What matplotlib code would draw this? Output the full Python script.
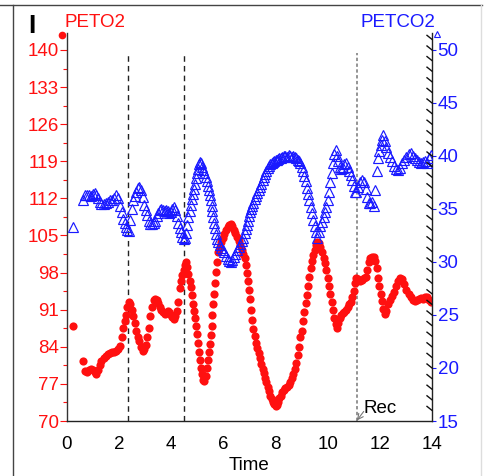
import matplotlib
matplotlib.use("Agg")
import matplotlib.pyplot as plt
from matplotlib.lines import Line2D

plt.rcParams['font.family'] = ['Liberation Sans', 'DejaVu Sans']

time = [0.22, 0.60, 0.68, 0.76, 0.84, 0.92, 1.00, 1.06, 1.12, 1.18, 1.25, 1.32, 1.40, 1.48, 1.56, 1.64,
        1.72, 1.80, 1.88, 1.96, 2.04, 2.10, 2.16, 2.21, 2.26, 2.31, 2.36, 2.42, 2.48, 2.54, 2.60, 2.66,
        2.72, 2.78, 2.84, 2.90, 2.96, 3.02, 3.08, 3.14, 3.20, 3.26, 3.32, 3.38, 3.44, 3.50, 3.56, 3.62,
        3.68, 3.74, 3.80, 3.86, 3.92, 3.98, 4.04, 4.10, 4.16, 4.22, 4.27, 4.32, 4.37, 4.42, 4.47, 4.52,
        4.57, 4.62, 4.66, 4.70, 4.74, 4.78, 4.82, 4.86, 4.90, 4.94, 4.98, 5.02, 5.06, 5.10, 5.14, 5.18,
        5.22, 5.27, 5.32, 5.36, 5.40, 5.44, 5.48, 5.52, 5.55, 5.58, 5.61, 5.64, 5.67, 5.71, 5.75, 5.80,
        5.86, 5.92, 5.98, 6.04, 6.10, 6.16, 6.22, 6.28, 6.34, 6.40, 6.46, 6.52, 6.58, 6.64, 6.70, 6.76,
        6.82, 6.87, 6.91, 6.95, 6.99, 7.03, 7.07, 7.11, 7.15, 7.20, 7.25, 7.30, 7.35, 7.40, 7.45, 7.50,
        7.55, 7.60, 7.65, 7.70, 7.75, 7.80, 7.85, 7.90, 7.95, 8.00, 8.05, 8.10, 8.15, 8.20, 8.26, 8.32,
        8.38, 8.44, 8.50, 8.56, 8.62, 8.68, 8.74, 8.80, 8.85, 8.90, 8.95, 9.00, 9.05, 9.10, 9.15, 9.20,
        9.25, 9.30, 9.35, 9.40, 9.45, 9.50, 9.55, 9.60, 9.66, 9.72, 9.78, 9.84, 9.90, 9.95, 10.00, 10.05,
        10.10, 10.15, 10.20, 10.25, 10.30, 10.35, 10.40, 10.46, 10.52, 10.58, 10.64, 10.70, 10.76, 10.82, 10.88, 10.94,
        10.99, 11.04, 11.09, 11.15, 11.22, 11.30, 11.38, 11.46, 11.52, 11.58, 11.64, 11.70, 11.76, 11.82, 11.88, 11.93,
        11.98, 12.03, 12.08, 12.13, 12.18, 12.24, 12.30, 12.38, 12.46, 12.54, 12.62, 12.70, 12.78, 12.86, 12.94, 13.02,
        13.10, 13.18, 13.26, 13.34, 13.42, 13.50, 13.58, 13.66, 13.74, 13.82, 13.90, 13.98]

peto2 = [88.0, 81.3, 79.5, 79.3, 79.6, 79.8, 79.6, 79.2, 78.9, 79.6, 80.5, 81.3, 81.8, 82.3, 82.7, 82.9,
         83.0, 83.1, 83.2, 83.5, 84.2, 85.8, 87.5, 88.8, 90.0, 91.5, 92.5, 92.0, 91.0, 89.8, 88.5, 87.0,
         85.8, 85.0, 84.0, 83.2, 83.5, 84.3, 85.8, 87.6, 89.8, 91.5, 92.8, 93.1, 92.8, 92.2, 91.6, 91.0,
         90.5, 90.2, 90.4, 90.7, 90.5, 90.0, 89.6, 89.3, 89.8, 90.8, 92.5, 95.0, 96.5, 97.5, 98.5, 99.5,
         100.0, 99.0, 97.8, 96.5, 95.2, 93.8, 92.0, 90.8, 89.5, 88.0, 86.5, 84.8, 83.0, 81.5, 80.0, 78.8,
         77.8, 77.6, 78.5, 80.0, 81.5, 83.0, 84.5, 86.2, 88.0, 90.0, 92.0, 94.0, 96.0, 98.2, 100.0, 101.8,
         102.8, 103.8, 104.6, 105.3, 106.0, 106.6, 107.0, 107.2, 106.8, 106.1, 105.5, 104.8, 104.0, 103.2, 102.3, 101.5,
         100.7, 99.5, 98.0, 96.5, 94.8, 93.0, 91.0, 89.0, 87.3, 86.0, 84.8, 83.8, 82.8, 81.8, 80.8, 79.8,
         79.0, 78.2, 77.3, 76.5, 75.6, 74.8, 74.2, 73.6, 73.2, 72.9, 73.0, 73.6, 74.3, 74.8, 75.4, 75.9,
         76.2, 76.4, 76.8, 77.4, 78.1, 78.8, 79.8, 81.0, 82.4, 84.0, 85.8, 87.0, 88.8, 90.5, 92.2, 93.8,
         95.5, 97.2, 98.8, 100.2, 101.3, 102.3, 103.2, 103.8, 103.6, 102.8, 101.8, 100.8, 99.8, 98.5, 97.0, 95.5,
         94.0, 92.5, 91.0, 89.5, 88.3, 87.6, 88.5, 89.5, 90.0, 90.3, 90.6, 91.0, 91.5, 92.0, 92.5, 93.3,
         94.5, 96.0, 96.9, 96.8, 96.5, 96.6, 97.0, 97.2, 98.5, 100.0, 100.8, 101.0, 101.0, 100.2, 98.8, 97.0,
         95.5, 94.0, 92.6, 91.2, 90.2, 90.8, 92.0, 92.8, 93.6, 94.4, 95.5, 96.4, 96.9, 96.7, 95.8, 94.8,
         94.0, 93.3, 92.8, 92.7, 92.9, 93.1, 93.2, 93.0, 93.3, 93.4, 92.9, 92.4]

petco2 = [33.3, 35.8, 36.3, 36.3, 36.3, 36.2, 36.4, 36.5, 36.3, 36.0, 35.7, 35.5, 35.5, 35.6, 35.7, 35.8,
          35.8, 36.0, 36.3, 36.0, 35.3, 34.7, 34.1, 33.7, 33.3, 33.0, 32.9, 34.0, 35.0, 35.8, 36.2, 36.6,
          37.0, 37.1, 36.8, 36.1, 35.4, 34.9, 34.4, 33.9, 33.6, 33.6, 33.7, 33.9, 34.3, 34.6, 34.9, 35.0,
          34.9, 34.8, 34.9, 34.8, 34.6, 34.7, 35.0, 35.2, 34.9, 34.3, 33.7, 33.2, 32.8, 32.4, 32.2, 32.3,
          32.7, 33.5, 34.2, 34.8, 35.4, 35.9, 36.4, 36.9, 37.4, 37.9, 38.4, 38.8, 39.2, 39.4, 39.3, 39.0,
          38.7, 38.4, 38.0, 37.6, 37.2, 36.8, 36.3, 35.8, 35.3, 34.8, 34.2, 33.7, 33.2, 32.6, 32.2, 31.9,
          31.6, 31.3, 31.1, 30.9, 30.6, 30.3, 30.1, 30.0, 30.2, 30.5, 30.8, 31.1, 31.4, 31.7, 32.0, 32.3,
          32.7, 33.1, 33.5, 33.9, 34.3, 34.7, 35.0, 35.3, 35.6, 35.9, 36.2, 36.5, 36.8, 37.1, 37.4, 37.7,
          38.0, 38.3, 38.6, 38.9, 39.1, 39.2, 39.3, 39.4, 39.5, 39.6, 39.6, 39.7, 39.8, 39.8, 39.9, 40.0,
          40.0, 39.9, 40.1, 40.0, 39.9, 40.0, 39.9, 39.8, 39.6, 39.5, 39.3, 39.0, 38.6, 38.1, 37.6, 37.0,
          36.4, 35.8, 35.2, 34.6, 34.0, 33.4, 32.8, 32.3, 32.8, 33.4, 33.8, 34.2, 34.7, 35.2, 35.8, 36.6,
          37.5, 38.4, 39.3, 40.2, 40.6, 40.0, 39.5, 39.0, 38.8, 38.9, 39.2, 39.3, 39.0, 38.6, 38.2, 37.7,
          37.2, 36.6, 36.6, 37.1, 37.5, 37.7, 37.5, 36.9, 36.1, 35.6, 35.6, 35.7, 35.3, 36.8, 38.6, 39.8,
          40.5, 41.0, 41.5, 42.0, 41.4, 40.8, 40.3, 39.9, 39.5, 39.1, 38.8, 38.7, 38.9, 39.3, 39.6, 39.9,
          40.2, 40.3, 40.0, 39.8, 39.6, 39.4, 39.3, 39.4, 39.5, 39.3, 39.8, 40.1]

left_ticks = [70, 77, 84, 91, 98, 105, 112, 119, 126, 133, 140]
right_ticks = [15, 20, 25, 30, 35, 40, 45, 50]
x_ticks = [0, 2, 4, 6, 8, 10, 12, 14]
event_times = [2.35, 4.5]
rec_time = 11.12

RED = '#ff1010'
BLUE = '#1a1aff'
FS = 13.5

fig = plt.figure(figsize=(4.87, 4.76), dpi=100)
ax = fig.add_axes([67/487, 1-421/476, (432-67)/487, (421-33)/476])
ax2 = ax.twinx()

ax.set_xlim(0, 14)
ax.set_ylim(70, 143.2)
ax2.set_ylim(15, 51.6)

ax.plot(time, peto2, 'o', color=RED, markersize=5.9, markeredgewidth=0, zorder=3)
ax2.plot(time, petco2, '^', markerfacecolor='none', markeredgecolor=BLUE,
         markersize=6.6, markeredgewidth=0.85, zorder=3)

for t in event_times:
    ax.plot([t, t], [70, 139.4], color='#222222', lw=1.0, ls=(0, (4, 3)), zorder=2)
ax.plot([rec_time, rec_time], [70, 139.4], color='#777777', lw=1.1, ls=(0, (2.2, 1.6)), zorder=2)
ax.text(11.39, 71.6, 'Rec', fontsize=FS, color='black', ha='left', va='baseline')
ax.annotate('', xy=(rec_time, 70.1), xytext=(11.38, 71.8),
            arrowprops=dict(arrowstyle='->', color='#777777', lw=0.8, shrinkA=0, shrinkB=0))

# axes styling
for s in ['top']:
    ax.spines[s].set_visible(False)
    ax2.spines[s].set_visible(False)
ax2.spines['left'].set_visible(False)
ax2.spines['bottom'].set_visible(False)
ax.spines['right'].set_visible(False)
ax.spines['left'].set_color('#333333')
ax.spines['bottom'].set_color('#222222')
ax2.spines['right'].set_color('#222222')
for sp in [ax.spines['left'], ax.spines['bottom'], ax2.spines['right']]:
    sp.set_linewidth(1.0)

ax.set_yticks(left_ticks)
ax.set_yticks([v + 3.5 for v in left_ticks[:-1]], minor=True)
ax.tick_params(axis='y', which='major', colors=RED, labelcolor=RED, direction='out',
               length=5, width=0.8, pad=1, labelsize=FS)
ax.tick_params(axis='y', which='minor', colors=RED, direction='out', length=3, width=0.8)

ax.set_xticks(x_ticks)
ax.tick_params(axis='x', which='major', length=0, pad=11, labelsize=FS, labelcolor='black')

ax2.set_yticks(right_ticks)
ax2.tick_params(axis='y', which='major', colors=BLUE, labelcolor=BLUE, direction='out',
                length=3, width=0.8, pad=1, labelsize=FS)

# diagonal hatch marks on the right axis
dx = 5 / 26.07
dy = 4 / 10.6
for v in range(16, 52):
    ax2.plot([14 - dx, 14], [v + dy, v], color='#111111', lw=1.0, clip_on=False, zorder=4)

ax.set_xlabel('Time', fontsize=FS, labelpad=3)

# series labels with marker symbols
fig.text(65/487, 1-27/476, 'PETO2', color=RED, fontsize=FS, ha='left', va='baseline')
fig.text(435/487, 1-27/476, 'PETCO2', color=BLUE, fontsize=FS, ha='right', va='baseline')
fig.add_artist(Line2D([62.5/487], [1-35/476], marker='o', color=RED, markersize=5.5,
                      markeredgewidth=0, transform=fig.transFigure))
fig.add_artist(Line2D([436.5/487], [1-34/476], marker='^', markerfacecolor='none',
                      markeredgecolor=BLUE, markersize=4, markeredgewidth=0.8,
                      transform=fig.transFigure))

# panel label and frame
fig.text(31.5/487, 1-33/476, 'I', fontsize=19, fontweight='bold', ha='center', va='baseline')
fig.add_artist(Line2D([0, 482/487], [1-5/476, 1-5/476], color='#444444', lw=1.0,
                      transform=fig.transFigure))
fig.add_artist(Line2D([13/487, 13/487], [0, 1-5/476], color='#444444', lw=1.0,
                      transform=fig.transFigure))
fig.add_artist(Line2D([481/487, 481/487], [0, 1-5/476], color='#dddddd', lw=1.0,
                      transform=fig.transFigure))

fig.savefig('out.png', dpi=100)
